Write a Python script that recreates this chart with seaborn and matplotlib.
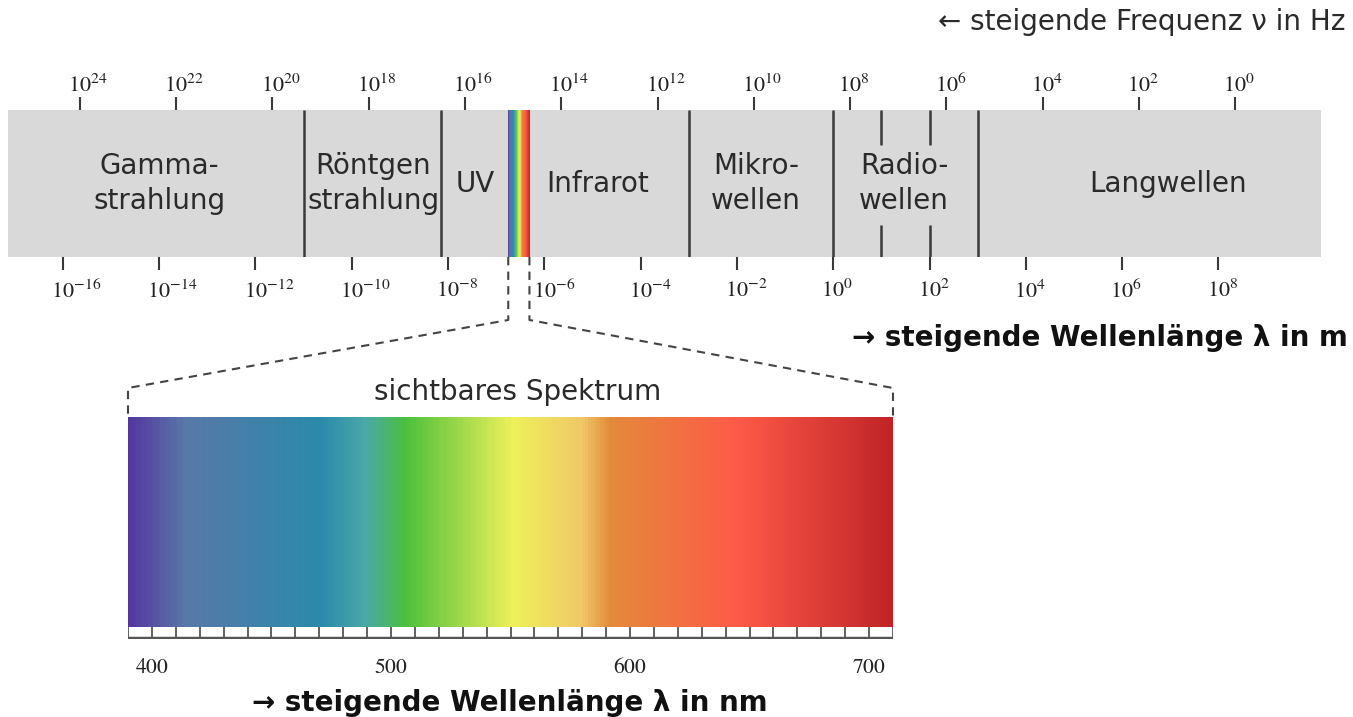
import numpy as np
import matplotlib
matplotlib.use("Agg")
import matplotlib.pyplot as plt
import matplotlib.transforms as mtransforms
from matplotlib.colors import LinearSegmentedColormap
from matplotlib.lines import Line2D
import seaborn as sns

# ---------------- data ----------------
wl_exponents = list(range(-16, 9, 2))          # log10(lambda / m), bottom ticks
freq_exponents = list(range(24, -1, -2))       # log10(f / Hz), top ticks
freq_offset = 8.35                             # log10 f = offset - log10 lambda (as drawn)
axis_range = (-17.14, 10.13)                   # log10(lambda) covered by the bar
boundaries = [-11.0, -8.14, -3.0, 0.0, 3.0]    # region borders (log10 lambda)
radio_subdivisions = [1.0, 2.0]
visible_band = (-6.75, -6.31)
region_names = ["Gamma-\nstrahlung", "Röntgen\nstrahlung", "UV", "Infrarot",
                "Mikro-\nwellen", "Radio-\nwellen", "Langwellen"]
region_centers = [-14.0, -9.55, -7.43, -4.9, -1.6, 1.47, 6.95]

spectrum_range = (390, 710)                    # nm
spectrum_ticks = [400, 500, 600, 700]
minor_step = 10
stop_nm = [390, 414, 470, 489, 506, 551, 580, 592, 645, 710]
stop_colors = ["#5535a0", "#5878a8", "#2a8aaa", "#4aa8a8", "#4cbf3a",
               "#eef05a", "#f0c868", "#e38a3a", "#fe5a48", "#c02428"]

# ---------------- style ----------------
sns.set_theme(style="white")
plt.rcParams["font.family"] = ["DejaVu Sans"]
plt.rcParams["mathtext.fontset"] = "stix"

W, H = 1353, 717
fig = plt.figure(figsize=(W / 100, H / 100), dpi=100)
fig.patch.set_facecolor("white")
renderer = fig.canvas.get_renderer()


def fpos(x0, y0, x1, y1):
    return [x0 / W, 1 - y1 / H, (x1 - x0) / W, (y1 - y0) / H]


def text_width(s, size):
    t = fig.text(0, 0, s, fontsize=size)
    w = t.get_window_extent(renderer).width
    t.remove()
    return w


line_col = "#3a3a3a"
gray = "#d9d9d9"
label_size = 16

# ---------------- main bar ----------------
ax = fig.add_axes(fpos(8, 110, 1321, 257))
ax.barh([0], [axis_range[1] - axis_range[0]], left=axis_range[0], height=1.0,
        color=gray, edgecolor="none", zorder=1)
ax.vlines(boundaries, -0.5, 0.5, color=line_col, lw=1.8, zorder=3)
ax.vlines(radio_subdivisions, 0.26, 0.5, color=line_col, lw=1.8, zorder=3)
ax.vlines(radio_subdivisions, -0.5, -0.28, color=line_col, lw=1.8, zorder=3)

pos = np.linspace(stop_nm[0], stop_nm[-1], 400)
cmap = LinearSegmentedColormap.from_list(
    "vis", [((n - stop_nm[0]) / (stop_nm[-1] - stop_nm[0]), c) for n, c in zip(stop_nm, stop_colors)])
ax.imshow(pos[None, :], extent=(visible_band[0], visible_band[1], -0.5, 0.5),
          aspect="auto", cmap=cmap, vmin=stop_nm[0], vmax=stop_nm[-1], zorder=2,
          interpolation="bilinear")

for name, cx in zip(region_names, region_centers):
    ax.text(cx, 0, name, ha="center", va="center", fontsize=20, color="#2a2a2a",
            linespacing=1.35, zorder=4)

ax.set_xlim(*axis_range)
ax.set_ylim(-0.5, 0.5)
ax.set_yticks([])
ax.set_xticks(wl_exponents)
ax.set_xticklabels([])
ax.tick_params(axis="x", direction="out", length=9.5, width=1.5, color=line_col,
               bottom=True)
for s in ax.spines.values():
    s.set_visible(False)

ax_top = ax.twiny()
ax_top.set_xlim(*axis_range)
ax_top.set_xticks([freq_offset - e for e in freq_exponents])
ax_top.set_xticklabels([])
ax_top.tick_params(axis="x", direction="out", length=9.5, width=1.5, color=line_col,
                   top=True)
for s in ax_top.spines.values():
    s.set_visible(False)

# power-of-ten labels: base "10" centred on its tick, exponent hanging right
w10 = text_width("$10$", label_size)
tr_main = mtransforms.blended_transform_factory(ax.transData, ax.transAxes)
for e in wl_exponents:
    s = f"$10^{{{e}}}$"
    dx = (text_width(s, label_size) - w10) / 2
    ax.annotate(s, xy=(e, 0), xycoords=tr_main, xytext=(dx, -22),
                textcoords="offset pixels", ha="center", va="top",
                fontsize=label_size, color="#222", annotation_clip=False)
for e in freq_exponents:
    s = f"$10^{{{e}}}$"
    dx = (text_width(s, label_size) - w10) / 2
    ax.annotate(s, xy=(freq_offset - e, 1), xycoords=tr_main, xytext=(dx, 14),
                textcoords="offset pixels", ha="center", va="bottom",
                fontsize=label_size, color="#222", annotation_clip=False)

# ---------------- visible spectrum ----------------
ax_grad = fig.add_axes(fpos(128, 417, 893, 627))
grad_vals = np.arange(spectrum_range[0], spectrum_range[1], 0.5) + 0.25
sns.heatmap(grad_vals[None, :], ax=ax_grad, cmap=cmap, vmin=stop_nm[0], vmax=stop_nm[-1],
            cbar=False, xticklabels=False, yticklabels=False, linewidths=0, rasterized=True)
ax_grad.set_xticks([])
ax_grad.set_yticks([])
for s in ax_grad.spines.values():
    s.set_visible(False)

ax_tick = fig.add_axes(fpos(128, 627, 893, 639))
ax_tick.set_facecolor("white")
ax_tick.set_xlim(*spectrum_range)
ax_tick.set_ylim(0, 1)
ax_tick.vlines(np.arange(spectrum_range[0], spectrum_range[1] + 1, minor_step), 0, 1,
               color="#555", lw=1.3)
ax_tick.axhline(0, color="#555", lw=3.2)
ax_tick.set_yticks([])
ax_tick.set_xticks(spectrum_ticks)
ax_tick.set_xticklabels([f"${v}$" for v in spectrum_ticks])
ax_tick.tick_params(axis="x", length=0, pad=13, labelsize=15.5, labelcolor="#222")
for s in ax_tick.spines.values():
    s.set_visible(False)

# ---------------- dashed connectors ----------------
tr_spec = mtransforms.blended_transform_factory(ax_tick.transData, ax_grad.transAxes)
inv = fig.transFigure.inverted()
drop = -63 / 147
rise = 1 + 29 / 210
for vx, sx in [(visible_band[0], spectrum_range[0]), (visible_band[1], spectrum_range[1])]:
    pts = [tr_main.transform((vx, 0)), tr_main.transform((vx, drop)),
           tr_spec.transform((sx, rise)), tr_spec.transform((sx, 1.0))]
    pts = inv.transform(np.array(pts))
    fig.add_artist(Line2D(pts[:, 0], pts[:, 1], transform=fig.transFigure,
                          color="#444", lw=1.5, linestyle=(0, (4, 3))))

# ---------------- titles ----------------
fig.text(1346 / W, 1 - 22 / H, "← steigende Frequenz ν in Hz", ha="right", va="center",
         fontsize=20, color="#2a2a2a")
fig.text(1348 / W, 1 - 338 / H, "→ steigende Wellenlänge λ in m", ha="right", va="center",
         fontsize=20, fontweight="bold", color="#111")
fig.text(510 / W, 1 - 703 / H, "→ steigende Wellenlänge λ in nm", ha="center", va="center",
         fontsize=20, fontweight="bold", color="#111")
fig.text(518 / W, 1 - 392 / H, "sichtbares Spektrum", ha="center", va="center",
         fontsize=20, color="#2a2a2a")

fig.savefig("out.png", dpi=100, facecolor="white")
